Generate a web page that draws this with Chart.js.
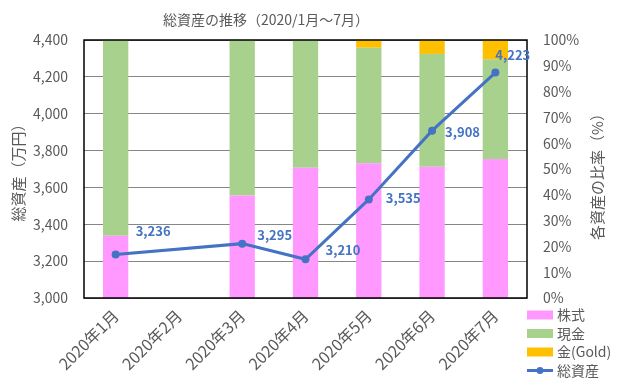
<!DOCTYPE html>
<html lang="ja">
<head>
  <meta charset="utf-8">
  <script src="https://cdn.jsdelivr.net/npm/chart.js@4.4.1/dist/chart.umd.min.js"></script>
  <style>
    html, body { margin: 0; padding: 0; background: #FFFFFF; }
    .chart-wrap { width: 619px; height: 378px; position: relative; }
  </style>
</head>
<body>
  <div class="chart-wrap">
    <canvas id="assetChart" width="619" height="378"></canvas>
  </div>

  <script>
    // データ
    const months = ['2020年1月', '2020年2月', '2020年3月', '2020年4月', '2020年5月', '2020年6月', '2020年7月'];
    const stockRatio = [24.1, null, 39.7, 50.5, 52.2, 50.9, 53.9];
    const cashRatio = [75.9, null, 60.3, 49.5, 44.8, 43.7, 38.6];
    const goldRatio = [0, null, 0, 0, 3.0, 5.4, 7.5];
    const totalAssets = [3236, null, 3295, 3210, 3535, 3908, 4223];

    const GRAY = '#595959';
    const BLUE = '#4472C4';
    const FONT = "'Noto Sans CJK JP', 'Noto Sans', sans-serif";
    Chart.defaults.font.family = FONT;
    Chart.defaults.color = GRAY;

    // 枠線・タイトル・右軸タイトル・凡例・データラベルを描く
    const decoPlugin = {
      id: 'deco',
      afterDatasetsDraw(chart) {
        const ctx = chart.ctx;
        const area = chart.chartArea;
        ctx.save();

        // プロットエリアの枠
        ctx.strokeStyle = '#000000';
        ctx.lineWidth = 1.5;
        ctx.strokeRect(area.left, area.top, area.right - area.left, area.bottom - area.top);

        // 総資産のデータラベル
        const meta = chart.getDatasetMeta(3);
        const shift = [[20, -23], null, [15, -9], [20, -9], [17, -1], [13, 1], [0, -18]];
        ctx.font = 'bold 13px ' + FONT;
        ctx.fillStyle = BLUE;
        ctx.textAlign = 'left';
        ctx.textBaseline = 'middle';
        meta.data.forEach((pt, i) => {
          const v = totalAssets[i];
          if (v == null || !shift[i]) return;
          ctx.fillText(v.toLocaleString('en-US'), pt.x + shift[i][0], pt.y + shift[i][1]);
        });

        // タイトル
        ctx.font = '14px ' + FONT;
        ctx.fillStyle = GRAY;
        ctx.textAlign = 'center';
        ctx.fillText('総資産の推移（2020/1月～7月）', 266, 20);

        // 右軸タイトル（下から上へ）
        ctx.save();
        ctx.translate(597, (area.top + area.bottom) / 2 + 4);
        ctx.rotate(-Math.PI / 2);
        ctx.font = '15px ' + FONT;
        ctx.fillText('各資産の比率（%）', 0, 0);
        ctx.restore();

        // 凡例
        const x0 = area.right;
        let y = area.bottom + 17;
        ctx.font = '14px ' + FONT;
        ctx.textAlign = 'left';
        chart.data.datasets.forEach(ds => {
          if (ds.type === 'line') {
            ctx.strokeStyle = ds.borderColor;
            ctx.lineWidth = 3;
            ctx.beginPath();
            ctx.moveTo(x0, y);
            ctx.lineTo(x0 + 26, y);
            ctx.stroke();
            ctx.fillStyle = ds.borderColor;
            ctx.beginPath();
            ctx.arc(x0 + 13, y, 3.5, 0, Math.PI * 2);
            ctx.fill();
          } else {
            ctx.fillStyle = ds.backgroundColor;
            ctx.fillRect(x0, y - 4.5, 26, 9);
          }
          ctx.fillStyle = GRAY;
          ctx.fillText(ds.label, x0 + 30, y);
          y += 18.5;
        });

        ctx.restore();
      }
    };

    const barBase = {
      type: 'bar',
      yAxisID: 'y1',
      categoryPercentage: 1.0,
      barPercentage: 0.4,
      borderWidth: 0,
      order: 2
    };

    new Chart(document.getElementById('assetChart'), {
      data: {
        labels: months,
        datasets: [
          Object.assign({}, barBase, { label: '株式', data: stockRatio, backgroundColor: '#FF99FF' }),
          Object.assign({}, barBase, { label: '現金', data: cashRatio, backgroundColor: '#A9D18E' }),
          Object.assign({}, barBase, { label: '金(Gold)', data: goldRatio, backgroundColor: '#FFC000' }),
          {
            type: 'line',
            label: '総資産',
            data: totalAssets,
            yAxisID: 'y',
            borderColor: BLUE,
            backgroundColor: BLUE,
            borderWidth: 3,
            pointRadius: 4,
            pointBackgroundColor: BLUE,
            pointBorderWidth: 0,
            spanGaps: true,
            tension: 0,
            order: 1
          }
        ]
      },
      options: {
        responsive: false,
        animation: false,
        layout: { padding: { top: 40, left: 0, right: 0, bottom: 0 } },
        plugins: {
          legend: { display: false },
          title: { display: false },
          tooltip: { enabled: false }
        },
        scales: {
          x: {
            stacked: true,
            grid: { display: false, drawTicks: false },
            border: { display: false },
            ticks: {
              minRotation: 45,
              maxRotation: 45,
              autoSkip: false,
              padding: 8,
              color: GRAY,
              font: { size: 16 }
            },
            afterFit(scale) { scale.height = 80; }
          },
          y: {
            position: 'left',
            min: 3000,
            max: 4400,
            grid: { color: '#868686', lineWidth: 1, drawTicks: false },
            border: { display: false },
            ticks: {
              stepSize: 200,
              padding: 16,
              color: GRAY,
              font: { size: 14 },
              callback: v => v.toLocaleString('en-US')
            },
            title: {
              display: true,
              text: '総資産（万円）',
              color: GRAY,
              font: { size: 15 },
              padding: { top: 9, bottom: 0 }
            },
            afterFit(scale) { scale.width = 84; }
          },
          y1: {
            position: 'right',
            stacked: true,
            min: 0,
            max: 100,
            grid: { display: false, drawTicks: false },
            border: { display: false },
            ticks: {
              stepSize: 10,
              padding: 16,
              color: GRAY,
              font: { size: 14 },
              callback: v => v + '%'
            },
            afterFit(scale) { scale.width = 92; }
          }
        }
      },
      plugins: [decoPlugin]
    });
  </script>
</body>
</html>
